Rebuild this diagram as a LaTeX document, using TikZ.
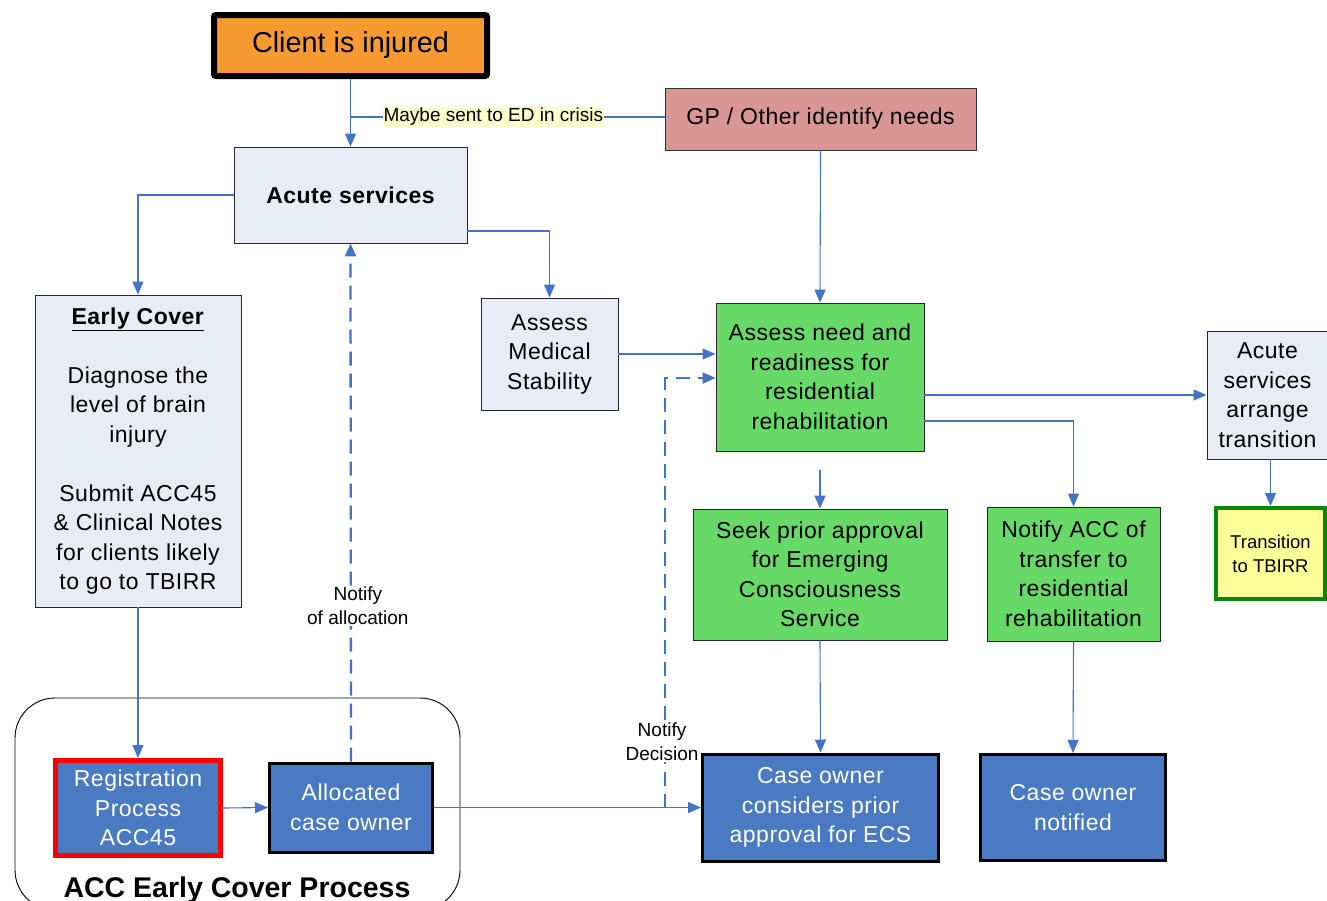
\documentclass[tikz,border=0pt]{standalone}
\usepackage{fontspec}
\setmainfont{Liberation Sans}
\newfontfamily\boxfont{Liberation Sans}[LetterSpace=2.2]
\usetikzlibrary{arrows.meta,calc}
\definecolor{lblue}{RGB}{231,236,247}
\definecolor{lgreen}{RGB}{102,217,102}
\definecolor{dblue}{RGB}{73,122,194}
\definecolor{orng}{RGB}{247,154,50}
\definecolor{rose}{RGB}{217,150,148}
\definecolor{lyellow}{RGB}{255,255,204}
\definecolor{tyellow}{RGB}{255,255,153}
\definecolor{tgreen}{RGB}{10,135,10}
\definecolor{conncol}{RGB}{68,114,196}
\tikzset{
  txt/.style={font=\boxfont\fontsize{23}{29.5}\selectfont, align=center, inner sep=0pt},
  lbox/.style={txt, draw=black!85, line width=0.9pt, fill=lblue},
  gbox/.style={txt, draw=black!85, line width=0.9pt, fill=lgreen},
  bbox/.style={txt, draw=black, line width=3pt, fill=dblue, text=white},
  conn/.style={draw=conncol, line width=1.1pt, -{Triangle[length=13pt,width=11pt]}},
  plainconn/.style={draw=conncol, line width=1.1pt},
  dconn/.style={draw=conncol, line width=2.3pt, dash pattern=on 14pt off 8pt, -{Triangle[length=13pt,width=11pt]}},
  lbl/.style={font=\fontsize{19}{24}\selectfont, align=center, inner sep=1pt}
}
\begin{document}
\begin{tikzpicture}[x=1pt,y=-1pt]
\useasboundingbox (0,0) rectangle (1327,900);
% container
\node[draw=black, line width=0.9pt, rounded corners=40pt, minimum width=445pt, minimum height=212pt, inner sep=0pt] (container) at (237.5,804) {};
\node[font=\fontsize{28.5}{32}\bfseries, anchor=base, inner sep=0pt] (containerlbl) at (237,897) {ACC Early Cover Process};
% nodes
\node[txt, draw=black, line width=6pt, rounded corners=2pt, fill=orng, minimum width=273pt, minimum height=61pt, font=\rmfamily\fontsize{28.8}{32}\selectfont] (client) at (350.5,45.5) {Client is injured};
\node[txt, draw=black!80, line width=0.9pt, fill=rose, minimum width=311pt, minimum height=62pt] (gp) at (820.5,119) {GP / Other identify needs};
\node[lbox, minimum width=233pt, minimum height=96pt, font=\boxfont\fontsize{23}{29.5}\bfseries] (acute) at (350.5,195) {Acute services};
\node[lbox, minimum width=206pt, minimum height=312pt] (early) at (138,451) {\underline{\textbf{Early Cover}}\\[29.5pt] Diagnose the\\ level of brain\\ injury\\[29.5pt] Submit ACC45\\ \& Clinical Notes\\ for clients likely\\ to go to TBIRR};
\node[lbox, minimum width=137pt, minimum height=112pt] (medical) at (549.5,354) {Assess\\ Medical\\ Stability};
\node[gbox, minimum width=208pt, minimum height=148pt] (need) at (820,377) {Assess need and\\ readiness for\\ residential\\ rehabilitation};
\node[gbox, minimum width=254pt, minimum height=131pt] (seek) at (820,574.5) {Seek prior approval\\ for Emerging\\ Consciousness\\ Service};
\node[gbox, minimum width=173pt, minimum height=134pt] (notifyacc) at (1073.5,574) {Notify ACC of\\ transfer to\\ residential\\ rehabilitation};
\node[lbox, minimum width=121pt, minimum height=128pt] (arrange) at (1267.5,395) {Acute\\ services\\ arrange\\ transition};
\node[txt, draw=tgreen, line width=4pt, fill=tyellow, minimum width=109pt, minimum height=91pt, font=\rmfamily\fontsize{18.5}{24}\selectfont] (tbirr) at (1270.5,553.5) {Transition\\ to TBIRR};
\node[txt, draw=red, line width=5pt, fill=dblue, text=white, minimum width=165pt, minimum height=95pt] (reg) at (138,808) {Registration\\ Process\\ ACC45};
\node[bbox, minimum width=163pt, minimum height=89pt] (alloc) at (351,807.5) {Allocated\\ case owner};
\node[bbox, minimum width=236pt, minimum height=107pt] (ecs) at (820.5,807.5) {Case owner\\ considers prior\\ approval for ECS};
\node[bbox, minimum width=185pt, minimum height=106pt] (notified) at (1073,807.5) {Case owner\\ notified};
% connectors
\draw[conn] (client.south) -- (acute.north);
\coordinate (join) at (350.5,117);
\draw[plainconn] ([yshift=2pt]gp.west) -- node[pos=0.545, lbl, fill=lyellow] (maybe) {Maybe sent to ED in crisis} (join);
\draw[conn] (acute.west) -| (early.north);
\draw[conn] ([yshift=-36pt]acute.east) -| (medical.north);
\draw[conn] (early.south) -- (reg.north);
\draw[conn] (reg.east) -- (alloc.west);
\draw[dconn] (alloc.north) -- node[pos=0.30, lbl, fill=white, xshift=7pt] (notalloc) {Notify\\ of allocation} (acute.south);
\draw[conn] (alloc.east) -- (ecs.west);
\coordinate (dstart) at (665,807.5);
\draw[dconn] (dstart) |- ([yshift=-1pt]need.west);
\node[lbl, fill=white] (notdec) at (662,742) {Notify\\ Decision};
\draw[conn] (medical.east) -- (medical.east -| need.west);
\draw[conn] (gp.south) -- (need.north);
\draw[conn] ([yshift=-18pt]need.east) -- (arrange.west);
\draw[conn] ([yshift=-44pt]need.east) -| (notifyacc.north);
\coordinate (sstart) at (820,470);
\draw[conn] (sstart) -- (seek.north);
\draw[conn] (seek.south) -- (ecs.north);
\draw[conn] (notifyacc.south) -- (notified.north);
\draw[conn] (tbirr.north |- arrange.south) -- (tbirr.north);
\end{tikzpicture}
\end{document}
